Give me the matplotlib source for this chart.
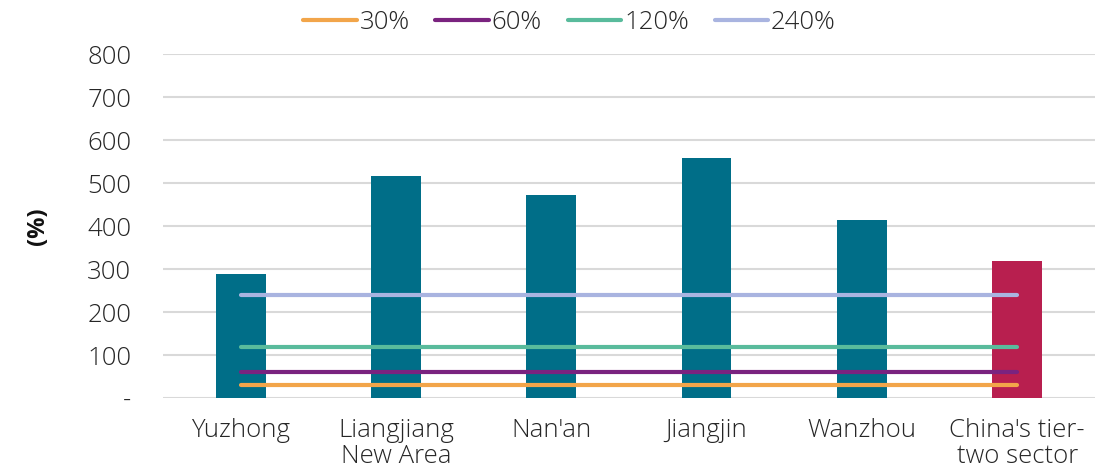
import numpy as np
import matplotlib.pyplot as plt

plt.rcParams['font.family'] = ['Open Sans', 'DejaVu Sans']

categories = ["Yuzhong", "Liangjiang\nNew Area", "Nan'an", "Jiangjin", "Wanzhou",
              "China's tier-\ntwo sector"]
values = [288, 516, 472, 558, 414, 319]
bar_colors = ["#006e88"] * 5 + ["#b81f4f"]

thresholds = [30, 60, 120, 240]
threshold_labels = ["30%", "60%", "120%", "240%"]
threshold_colors = ["#f2a54a", "#7a237f", "#59bb9c", "#a9b4e0"]

yticks = [0, 100, 200, 300, 400, 500, 600, 700, 800]
ytick_labels = ["-", "100", "200", "300", "400", "500", "600", "700", "800"]

fig = plt.figure(figsize=(11.12, 4.74), dpi=100)
ax = fig.add_axes([0.1466, 0.16, 0.838, 0.726])

x = np.arange(len(categories))
ax.bar(x, values, width=0.32, color=bar_colors, zorder=2)

# flat reference lines spanning first to last category
for t, lab, c in zip(thresholds, threshold_labels, threshold_colors):
    ax.plot([x[0], x[-1]], [t, t], color=c, lw=3, solid_capstyle='round',
            label=lab, zorder=3)

ax.set_xlim(-0.5, len(categories) - 0.5)
ax.set_ylim(0, 800)
ax.set_yticks(yticks)
ax.set_yticklabels(ytick_labels)
ax.set_xticks(x)
ax.set_xticklabels(categories, linespacing=1.05)
ax.yaxis.grid(True, color="#d9d9d9", lw=1.5, zorder=0)
ax.set_axisbelow(True)
for s in ax.spines.values():
    s.set_visible(False)
ax.tick_params(axis='both', length=0, labelsize=18.5, labelcolor="#262626")
ax.tick_params(axis='y', pad=23)
ax.tick_params(axis='x', pad=14)
for lbl in ax.get_xticklabels() + ax.get_yticklabels():
    lbl.set_fontweight('light')

ax.set_ylabel("(%)", fontsize=17, fontweight='bold', labelpad=27, color="#111111")

leg = ax.legend(loc='center', bbox_to_anchor=(0.436, 1.093), ncol=4,
                frameon=False, fontsize=18.5, handlelength=2.1,
                handletextpad=0.1, columnspacing=1.0, borderaxespad=0)
for t in leg.get_texts():
    t.set_fontweight('light')
    t.set_color("#262626")

fig.savefig("out.png", dpi=100)
